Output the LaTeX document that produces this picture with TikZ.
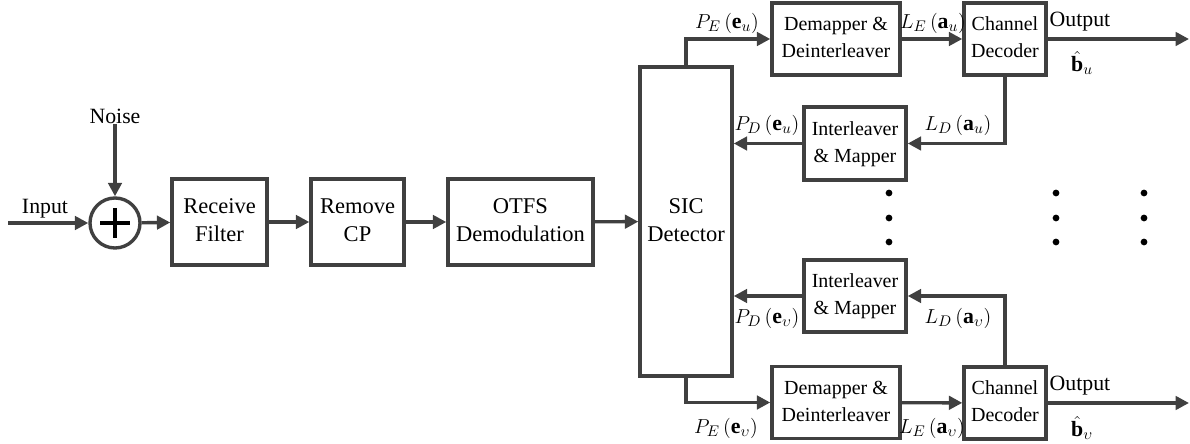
\documentclass[tikz,border=0pt]{standalone}
\usepackage{amsmath}
\usepackage{amssymb}
\usepackage{fontspec}
\setmainfont{Liberation Serif}
\usepackage{tikz}
\usetikzlibrary{arrows.meta}
\definecolor{dk}{HTML}{404040}
\tikzstyle{blk} = [draw=dk, line width=2.4pt, inner sep=1pt, font=\fontsize{16}{20}\selectfont]
\tikzstyle{blks} = [blk, font=\fontsize{14.2}{19}\selectfont]
\tikzstyle{lbl} = [inner sep=0pt, font=\fontsize{15.5}{19}\selectfont]
\tikzstyle{conn} = [draw=dk, line width=2.4pt, -{Triangle[length=9.5pt,width=9.5pt]}]
\newcommand{\twoline}[2]{\begin{tabular}{@{}c@{}}#1\\#2\end{tabular}}

\begin{document}
\begin{tikzpicture}[x=0.025cm,y=-0.025cm]
			\useasboundingbox (0,0) rectangle (1190,444);
			% receiver front end
			\node[circle, draw=dk, line width=2.4pt, minimum size=1.25cm, inner sep=0pt] (sum) at (115,223) {};
			\draw[line width=2.4pt] (sum.center) +(-15,0) -- +(15,0);
			\draw[line width=2.4pt] (sum.center) +(0,-15) -- +(0,15);
			\coordinate (in) at (8,223);
			\node[lbl] (inlbl) at (45,209) {Input};
			\node[lbl] (noise) at (115,116) {Noise};
			\node[blk, minimum width=2.375cm, minimum height=2.15cm] (rf) at (219.5,222) {\twoline{Receive}{Filter}};
			\node[blk, minimum width=2.325cm, minimum height=2.15cm] (rcp) at (357.5,222) {\twoline{Remove}{CP}};
			\node[blk, minimum width=3.625cm, minimum height=2.15cm] (otfs) at (520.5,222) {\twoline{OTFS}{Demodulation}};
			\node[blk, minimum width=2.3cm, minimum height=7.725cm] (sic) at (686,221.5) {\twoline{SIC}{Detector}};
			% user u
			\node[blks, minimum width=3.2cm, minimum height=1.8cm] (dem1) at (836,39) {\twoline{Demapper \&}{Deinterleaver}};
			\node[blks, minimum width=2.05cm, minimum height=1.8cm] (cd1) at (1005,39) {\twoline{Channel}{Decoder}};
			\node[blks, minimum width=2.55cm, minimum height=1.825cm] (int1) at (855,143.5) {\twoline{Interleaver}{\& Mapper}};
			\coordinate (out1) at (1189,39);
			% user v
			\node[blks, minimum width=2.55cm, minimum height=1.8cm] (int2) at (855,296) {\twoline{Interleaver}{\& Mapper}};
			\node[blks, minimum width=3.2cm, minimum height=1.8cm] (dem2) at (836,402.5) {\twoline{Demapper \&}{Deinterleaver}};
			\node[blks, minimum width=2.05cm, minimum height=1.8cm] (cd2) at (1005,403) {\twoline{Channel}{Decoder}};
			\coordinate (out2) at (1189,403);
			% connections
			\draw[conn] (in) -- (sum);
			\draw[conn] (noise) -- (sum);
			\draw[conn] (sum) -- (rf);
			\draw[conn] (rf) -- (rcp);
			\draw[conn] (rcp) -- (otfs);
			\draw[conn] (otfs) -- (sic);
			\draw[conn] (sic.north) |- (dem1.west);
			\draw[conn] (dem1) -- (cd1);
			\draw[conn] (cd1) -- (out1);
			\draw[conn] (cd1.south) |- (int1.east);
			\draw[conn] (int1.west) -- (sic.east |- int1.west);
			\draw[conn] (sic.south) |- (dem2.west);
			\draw[conn] (dem2) -- (cd2);
			\draw[conn] (cd2) -- (out2);
			\draw[conn] (cd2.north) |- (int2.east);
			\draw[conn] (int2.west) -- (sic.east |- int2.west);
			% labels
			\node[lbl] (pe1) at (727,23) {$P_{E}\left(\mathbf{e}_{u}\right)$};
			\node[lbl] (le1) at (933,23) {$L_{E}\left(\mathbf{a}_{u}\right)$};
			\node[lbl] (o1) at (1080,22) {Output};
			\node[lbl] (b1) at (1082,63) {$\hat{\mathbf{b}}_{u}$};
			\node[lbl] (pd1) at (767,125) {$P_{D}\left(\mathbf{e}_{u}\right)$};
			\node[lbl] (ld1) at (958,125) {$L_{D}\left(\mathbf{a}_{u}\right)$};
			\node[lbl] (pd2) at (767,318) {$P_{D}\left(\mathbf{e}_{\upsilon}\right)$};
			\node[lbl] (ld2) at (958,318) {$L_{D}\left(\mathbf{a}_{\upsilon}\right)$};
			\node[lbl] (pe2) at (726,428) {$P_{E}\left(\mathbf{e}_{\upsilon}\right)$};
			\node[lbl] (le2) at (932,428) {$L_{E}\left(\mathbf{a}_{\upsilon}\right)$};
			\node[lbl] (o2) at (1080,386) {Output};
			\node[lbl] (b2) at (1082,428) {$\hat{\mathbf{b}}_{\upsilon}$};
			% dots
			\foreach \x in {889,1056,1144}
				\foreach \y in {193,218,242}
					\fill (\x,\y) circle[radius=2.4pt];
		\end{tikzpicture}
\end{document}
